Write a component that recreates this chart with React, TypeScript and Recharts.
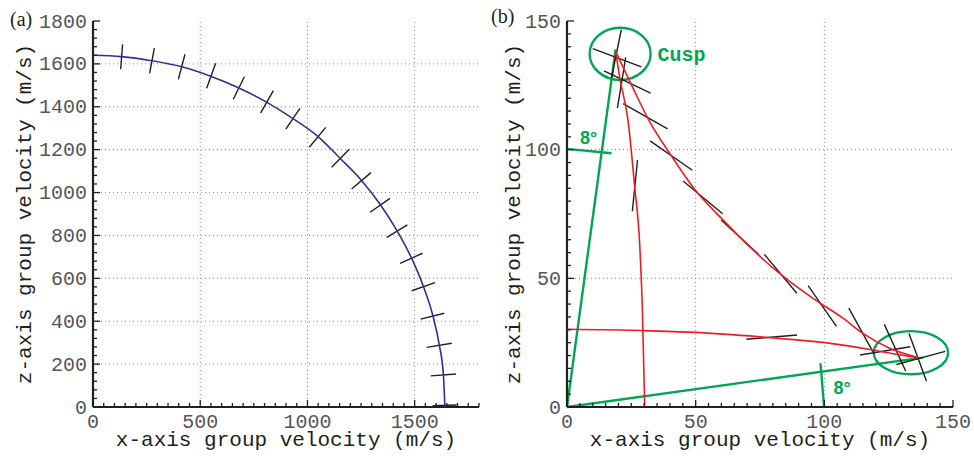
import React from "react";
import {
  ScatterChart,
  Scatter,
  XAxis,
  YAxis,
  ReferenceLine,
  ReferenceArea,
  ReferenceDot,
} from "recharts";

// ---- panel (a): group velocity curve, m/s ----
const curveAX = [0, 134, 274, 414, 546, 673, 805, 931, 1051, 1152, 1250, 1338, 1418, 1486, 1540, 1584, 1615, 1634, 1641];
const curveAZ = [1640, 1634, 1615, 1587, 1544, 1491, 1424, 1346, 1260, 1160, 1059, 947, 821, 693, 564, 429, 289, 149, 0];

// polarisation marks along the curve: [x1, z1, x2, z2]
const marksA = [
  [138, 1691, 129, 1575],
  [286, 1673, 264, 1556],
  [429, 1645, 398, 1528],
  [572, 1603, 530, 1486],
  [706, 1540, 654, 1435],
  [841, 1475, 782, 1372],
  [965, 1393, 899, 1296],
  [1085, 1304, 1009, 1211],
  [1195, 1202, 1113, 1118],
  [1296, 1093, 1206, 1017],
  [1385, 973, 1292, 908],
  [1466, 849, 1370, 791],
  [1537, 717, 1432, 670],
  [1595, 580, 1486, 542],
  [1638, 437, 1528, 410],
  [1673, 297, 1556, 278],
  [1693, 154, 1575, 145],
  [1696, 9, 1584, 6],
];

const xMajorA = [0, 500, 1000, 1500];
const zMajorA = [0, 200, 400, 600, 800, 1000, 1200, 1400, 1600, 1800];

// ---- panel (b): cusp branches ----
const outerX = [18.9, 25.6, 32.1, 39.9, 50.3, 60.6, 72.3, 83.3, 95.6, 107.3, 115.0, 125.4, 136.4];
const outerZ = [138.2, 124.0, 110.9, 98.6, 83.7, 72.7, 61.0, 51.3, 42.2, 34.5, 28.6, 22.8, 19.2];
const steepX = [18.9, 20.5, 23.7, 26.3, 28.3, 29.3, 30.2];
const steepZ = [138.2, 128.0, 111.5, 85.6, 62.3, 37.7, 0];
const flatX = [0, 29.3, 49.6, 74.9, 90.2, 99.5, 115.0, 128.0, 136.4];
const flatZ = [30.2, 29.7, 29.0, 27.3, 26.0, 25.1, 22.8, 20.5, 19.2];

const marksB = [
  [21.1, 146.6, 17.3, 127.9],
  [22.8, 135.9, 19.6, 116.1],
  [10.0, 139.3, 28.9, 132.2],
  [14.4, 130.6, 32.5, 122.0],
  [21.8, 117.9, 39.1, 108.1],
  [32.3, 103.4, 48.7, 92.0],
  [45.1, 87.8, 60.5, 75.1],
  [27.4, 96.0, 25.4, 76.1],
  [59.9, 72.7, 74.6, 59.2],
  [76.7, 59.3, 89.3, 44.2],
  [93.7, 47.2, 104.7, 31.3],
  [109.5, 38.4, 118.9, 21.4],
  [123.3, 32.1, 131.6, 14.0],
  [132.9, 28.6, 139.7, 10.0],
  [69.7, 26.3, 89.4, 28.0],
  [113.9, 20.2, 133.4, 23.4],
  [128.0, 16.5, 147.0, 21.6],
];

// green construction lines (8 degree rays and arcs)
const guides = [
  [0, 0, 18.9, 139.0],
  [0, 0, 138.3, 19.2],
  [0, 100.3, 17.3, 98.6],
  [98.5, 17.0, 99.9, 0.1],
];
const rings = [
  { x1: 8.8, x2: 32.5, z1: 127.1, z2: 147.4 },
  { x1: 119.2, x2: 148.1, z1: 12.7, z2: 29.5 },
];
const notes = [
  { x: 44.5, z: 137.2, text: "Cusp", mono: true },
  { x: 8.4, z: 104.7, text: "8°", mono: false },
  { x: 106.9, z: 7.5, text: "8°", mono: false },
];

const xMajorB = [0, 50, 100, 150];
const zMajorB = [0, 50, 100, 150];

const MONO = '"Liberation Mono", "Courier New", monospace';
const SANS = '"Liberation Sans", Arial, sans-serif';
const INK = "#231f20";
const GREY = "#555";
const BLUE = "#2e3192";
const RED = "#ed1c24";
const GREEN = "#00a651";

const pts = (xs: number[], zs: number[]) => xs.map((x, i) => ({ x, z: zs[i] }));
const steps = (max: number, step: number) =>
  Array.from({ length: Math.round(max / step) + 1 }, (_, i) => i * step);

const NoDot = () => null;

function FrameTick(props: any) {
  const { x, y, payload, side, majors, labelled } = props;
  const v = payload.value;
  const major = majors.includes(v);
  const len = major ? 7 : 4;
  const dx = side === "left" ? len : side === "right" ? -len : 0;
  const dy = side === "bottom" ? -len : side === "top" ? len : 0;
  return (
    <g>
      <line x1={x} y1={y} x2={x + dx} y2={y + dy} stroke={INK} strokeWidth={1.3} />
      {labelled && major && side === "bottom" && (
        <text x={x} y={y + 20.5} textAnchor="middle" fill={GREY} fontSize={20} fontFamily={MONO}>
          {v}
        </text>
      )}
      {labelled && major && side === "left" && (
        <text x={x - 6} y={y + 6.5} textAnchor="end" fill={GREY} fontSize={20} fontFamily={MONO}>
          {v}
        </text>
      )}
    </g>
  );
}

const frame = { stroke: INK, strokeWidth: 2.2 };

function axes(xMax: number, xStep: number, xMaj: number[], zMax: number, zStep: number, zMaj: number[], leftW: number, labelOff: number) {
  const xt = steps(xMax, xStep);
  const zt = steps(zMax, zStep);
  return [
    <XAxis
      key="xb"
      type="number"
      dataKey="x"
      domain={[0, xMax]}
      allowDataOverflow
      ticks={xt}
      interval={0}
      height={49}
      tickSize={0}
      tickMargin={0}
      tickLine={false}
      axisLine={frame}
      tick={(p: any) => <FrameTick {...p} side="bottom" majors={xMaj} labelled />}
      label={{
        value: "x-axis group velocity (m/s)",
        position: "insideBottom",
        offset: 10,
        fill: INK,
        fontSize: 21,
        fontFamily: MONO,
      }}
    />,
    <YAxis
      key="yl"
      type="number"
      dataKey="z"
      domain={[0, zMax]}
      allowDataOverflow
      ticks={zt}
      interval={0}
      width={leftW}
      tickSize={0}
      tickMargin={0}
      tickLine={false}
      axisLine={frame}
      tick={(p: any) => <FrameTick {...p} side="left" majors={zMaj} labelled />}
      label={{
        value: "z-axis group velocity (m/s)",
        angle: -90,
        position: "insideLeft",
        offset: labelOff,
        style: { textAnchor: "middle" },
        fill: INK,
        fontSize: 21,
        fontFamily: MONO,
      }}
    />,
    <XAxis
      key="xt"
      xAxisId="top"
      orientation="top"
      type="number"
      dataKey="x"
      domain={[0, xMax]}
      allowDataOverflow
      ticks={xt}
      interval={0}
      height={0}
      tickSize={0}
      tickMargin={0}
      tickLine={false}
      axisLine={frame}
      tick={(p: any) => <FrameTick {...p} side="top" majors={xMaj} />}
    />,
    <YAxis
      key="yr"
      yAxisId="right"
      orientation="right"
      type="number"
      dataKey="z"
      domain={[0, zMax]}
      allowDataOverflow
      ticks={zt}
      interval={0}
      width={0}
      tickSize={0}
      tickMargin={0}
      tickLine={false}
      axisLine={frame}
      tick={(p: any) => <FrameTick {...p} side="right" majors={zMaj} />}
    />,
    <Scatter key="hold" xAxisId="top" yAxisId="right" data={[]} shape={NoDot} isAnimationActive={false} />,
  ];
}

function gridLines(xs: number[], zs: number[]) {
  return [
    ...xs.map((v) => (
      <ReferenceLine key={"gx" + v} x={v} stroke="#8a8a8a" strokeDasharray="1 3" strokeWidth={1} />
    )),
    ...zs.map((v) => (
      <ReferenceLine key={"gz" + v} y={v} stroke="#8a8a8a" strokeDasharray="1 3" strokeWidth={1} />
    )),
  ];
}

function segs(list: number[][], color: string, width: number, tag: string) {
  return list.map((s, i) => (
    <ReferenceLine
      key={tag + i}
      segment={[
        { x: s[0], y: s[1] },
        { x: s[2], y: s[3] },
      ]}
      stroke={color}
      strokeWidth={width}
      ifOverflow="visible"
    />
  ));
}

export default function App() {
  return (
    <div style={{ position: "absolute", left: 0, top: 0, width: 974, height: 456, background: "#fff" }}>
      <div style={{ position: "absolute", left: 0, top: 0 }}>
        <ScatterChart width={487} height={456} margin={{ top: 21, right: 8, bottom: 0, left: 10 }}>
          {axes(1800, 50, xMajorA, 1800, 40, zMajorA, 83, 13.5)}
          {gridLines([500, 1000, 1500], [200, 400, 600, 800, 1000, 1200, 1400, 1600])}
          <Scatter
            data={pts(curveAX, curveAZ)}
            line={{ stroke: BLUE, strokeWidth: 1.6 }}
            lineJointType="monotoneX"
            shape={NoDot}
            isAnimationActive={false}
          />
          {segs(marksA, INK, 1.4, "ma")}
        </ScatterChart>
      </div>

      <div style={{ position: "absolute", left: 487, top: 0 }}>
        <ScatterChart width={487} height={456} margin={{ top: 21, right: 21, bottom: 0, left: 10 }}>
          {axes(150, 5, xMajorB, 150, 5, zMajorB, 70, 15.5)}
          {gridLines([50, 100], [50, 100])}
          <Scatter data={pts(outerX, outerZ)} line={{ stroke: RED, strokeWidth: 1.6 }} lineJointType="monotoneX" shape={NoDot} isAnimationActive={false} />
          <Scatter data={pts(steepX, steepZ)} line={{ stroke: RED, strokeWidth: 1.6 }} lineJointType="monotoneX" shape={NoDot} isAnimationActive={false} />
          <Scatter data={pts(flatX, flatZ)} line={{ stroke: RED, strokeWidth: 1.6 }} lineJointType="monotoneX" shape={NoDot} isAnimationActive={false} />
          {segs(guides, GREEN, 2.4, "g")}
          {segs(marksB, INK, 1.4, "mb")}
          {rings.map((r, i) => (
            <ReferenceArea
              key={"r" + i}
              x1={r.x1}
              x2={r.x2}
              y1={r.z1}
              y2={r.z2}
              ifOverflow="visible"
              shape={(p: any) => (
                <ellipse
                  cx={p.x + p.width / 2}
                  cy={p.y + p.height / 2}
                  rx={p.width / 2}
                  ry={p.height / 2}
                  fill="none"
                  stroke={GREEN}
                  strokeWidth={2.4}
                />
              )}
            />
          ))}
          {notes.map((n, i) => (
            <ReferenceDot
              key={"n" + i}
              x={n.x}
              y={n.z}
              r={0}
              fill="none"
              stroke="none"
              label={{
                value: n.text,
                position: "center",
                fill: GREEN,
                fontSize: n.mono ? 20 : 18,
                fontWeight: "bold",
                fontFamily: n.mono ? MONO : SANS,
              }}
            />
          ))}
        </ScatterChart>
      </div>

      <div style={{ position: "absolute", left: 10, top: 9, fontFamily: '"Liberation Serif", serif', fontSize: 20, lineHeight: "20px", color: INK }}>
        (a)
      </div>
      <div style={{ position: "absolute", left: 491, top: 6, fontFamily: '"Liberation Serif", serif', fontSize: 20, lineHeight: "20px", color: INK }}>
        (b)
      </div>
    </div>
  );
}
